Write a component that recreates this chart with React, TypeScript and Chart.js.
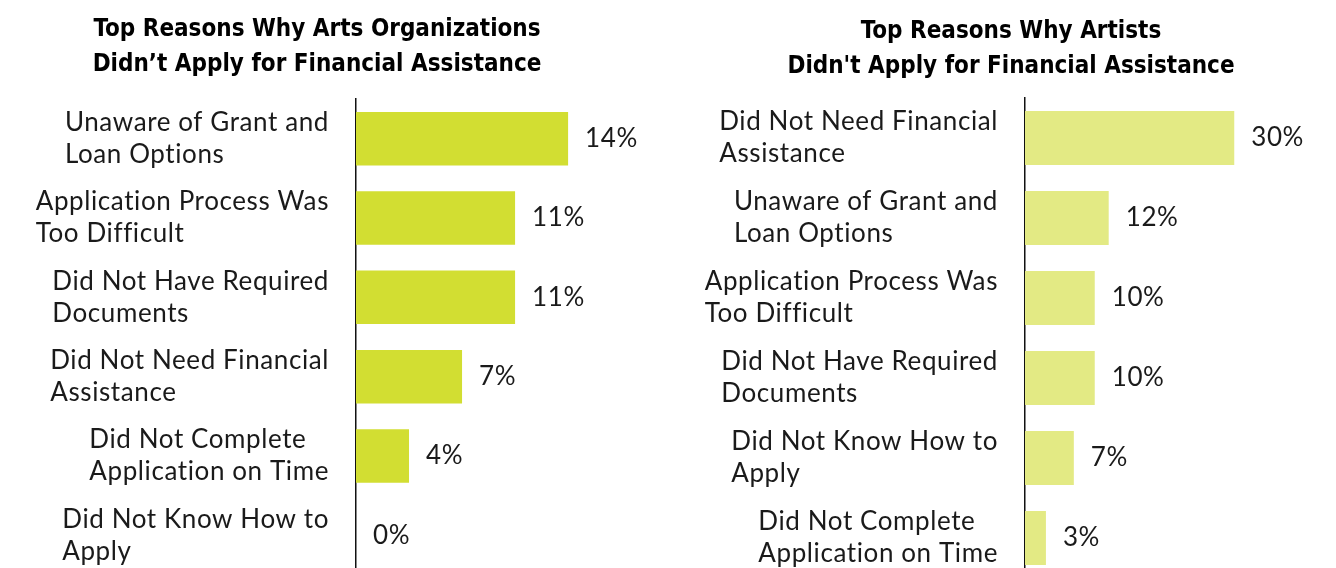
import React, { useEffect, useRef } from "react";
import { Chart, registerables } from "chart.js";

Chart.register(...registerables);

// ---------- Data ----------
const orgTitle = ["Top Reasons Why Arts Organizations", "Didn’t Apply for Financial Assistance"];
const orgCategories = [
  ["Unaware of Grant and", "Loan Options"],
  ["Application Process Was", "Too Difficult"],
  ["Did Not Have Required", "Documents"],
  ["Did Not Need Financial", "Assistance"],
  ["Did Not Complete", "Application on Time"],
  ["Did Not Know How to", "Apply"],
];
const orgValues = [14, 10.5, 10.5, 7, 3.5, 0];

const artistTitle = ["Top Reasons Why Artists", "Didn't Apply for Financial Assistance"];
const artistCategories = [
  ["Did Not Need Financial", "Assistance"],
  ["Unaware of Grant and", "Loan Options"],
  ["Application Process Was", "Too Difficult"],
  ["Did Not Have Required", "Documents"],
  ["Did Not Know How to", "Apply"],
  ["Did Not Complete", "Application on Time"],
];
const artistValues = [30, 12, 10, 10, 7, 3];

// ---------- Plugin: category labels, value labels, title ----------
const annotate = {
  id: "annotate",
  afterDraw(chart: any, _args: any, opts: any) {
    const ctx = chart.ctx as CanvasRenderingContext2D;
    const ys = chart.scales.y;
    const xs = chart.scales.x;
    const area = chart.chartArea;
    ctx.save();
    ctx.fillStyle = "#1a1a1a";
    ctx.textBaseline = "middle";
    ctx.font = `${opts.labelWeight} ${opts.labelSize}px ${opts.labelFont}`;
    (ctx as any).letterSpacing = opts.letterSpacing;
    const cats = chart.data.labels as string[][];
    const data = chart.data.datasets[0].data as number[];
    cats.forEach((lines, i) => {
      const cy = ys.getPixelForValue(i);
      const w = Math.max(...lines.map((l) => ctx.measureText(l).width));
      const left = area.left - opts.labelGap - w;
      ctx.textAlign = "left";
      lines.forEach((l, j) => {
        ctx.fillText(l, left, cy + (j - (lines.length - 1) / 2) * opts.lineHeight);
      });
      const v = data[i];
      ctx.fillText(Math.round(v) + "%", xs.getPixelForValue(v) + opts.valueGap, cy);
    });
    (ctx as any).letterSpacing = "0px";
    ctx.fillStyle = "#000";
    ctx.textAlign = "center";
    ctx.font = `${opts.titleWeight} ${opts.titleSize}px ${opts.titleFont}`;
    (opts.title as string[]).forEach((t, j) => {
      ctx.fillText(t, opts.titleX, opts.titleY + j * opts.titleLineHeight);
    });
    ctx.restore();
  },
};

type PanelProps = {
  categories: string[][];
  values: number[];
  title: string[];
  color: string;
  xMax: number;
  padding: { left: number; right: number; top: number; bottom: number };
  titleX: number;
  titleY: number;
  titleLineHeight: number;
  width: number;
  height: number;
};

function Panel(p: PanelProps) {
  const ref = useRef<HTMLCanvasElement>(null);
  useEffect(() => {
    if (!ref.current) return;
    const chart = new Chart(ref.current, {
      type: "bar",
      data: {
        labels: p.categories as any,
        datasets: [
          {
            data: p.values,
            backgroundColor: p.color,
            borderWidth: 0,
            barPercentage: 0.675,
            categoryPercentage: 1,
          },
        ],
      },
      plugins: [annotate as any],
      options: {
        indexAxis: "y",
        responsive: false,
        animation: false,
        events: [],
        layout: { padding: p.padding },
        scales: {
          x: { display: false, min: 0, max: p.xMax },
          y: {
            display: true,
            z: 1,
            grid: { display: false },
            border: { display: true, color: "#111", width: 1.5 },
            ticks: { display: false },
          },
        },
        plugins: {
          legend: { display: false },
          tooltip: { enabled: false },
          title: { display: false },
          annotate: {
            labelFont: "Lato, sans-serif",
            labelWeight: 400,
            labelSize: 26,
            letterSpacing: "0.6px",
            lineHeight: 32,
            labelGap: 27,
            valueGap: 17,
            title: p.title,
            titleFont: "'Liberation Sans Narrow', 'DejaVu Sans Condensed', sans-serif",
            titleWeight: 700,
            titleSize: 24,
            titleLineHeight: p.titleLineHeight,
            titleX: p.titleX,
            titleY: p.titleY,
          },
        } as any,
      },
    });
    return () => chart.destroy();
  }, []);
  return <canvas ref={ref} width={p.width} height={p.height} style={{ width: p.width, height: p.height, display: "block" }} />;
}

export default function App() {
  return (
    <div
      style={{
        position: "fixed",
        left: 0,
        top: 0,
        width: 1336,
        height: 568,
        overflow: "hidden",
        background: "#fff",
      }}
    >
      <div style={{ position: "absolute", left: 0, top: 0 }}>
        <Panel
          categories={orgCategories}
          values={orgValues}
          title={orgTitle}
          color="#D2DE32"
          xMax={20}
          padding={{ left: 348, right: 9, top: 99, bottom: 5 }}
          titleX={317}
          titleY={29.5}
          titleLineHeight={35}
          width={668}
          height={580}
        />
      </div>
      <div style={{ position: "absolute", left: 668, top: 0 }}>
        <Panel
          categories={artistCategories}
          values={artistValues}
          title={artistTitle}
          color="#E3EA84"
          xMax={40}
          padding={{ left: 349, right: 32, top: 98, bottom: 2 }}
          titleX={343}
          titleY={31.5}
          titleLineHeight={35.5}
          width={668}
          height={580}
        />
      </div>
    </div>
  );
}
